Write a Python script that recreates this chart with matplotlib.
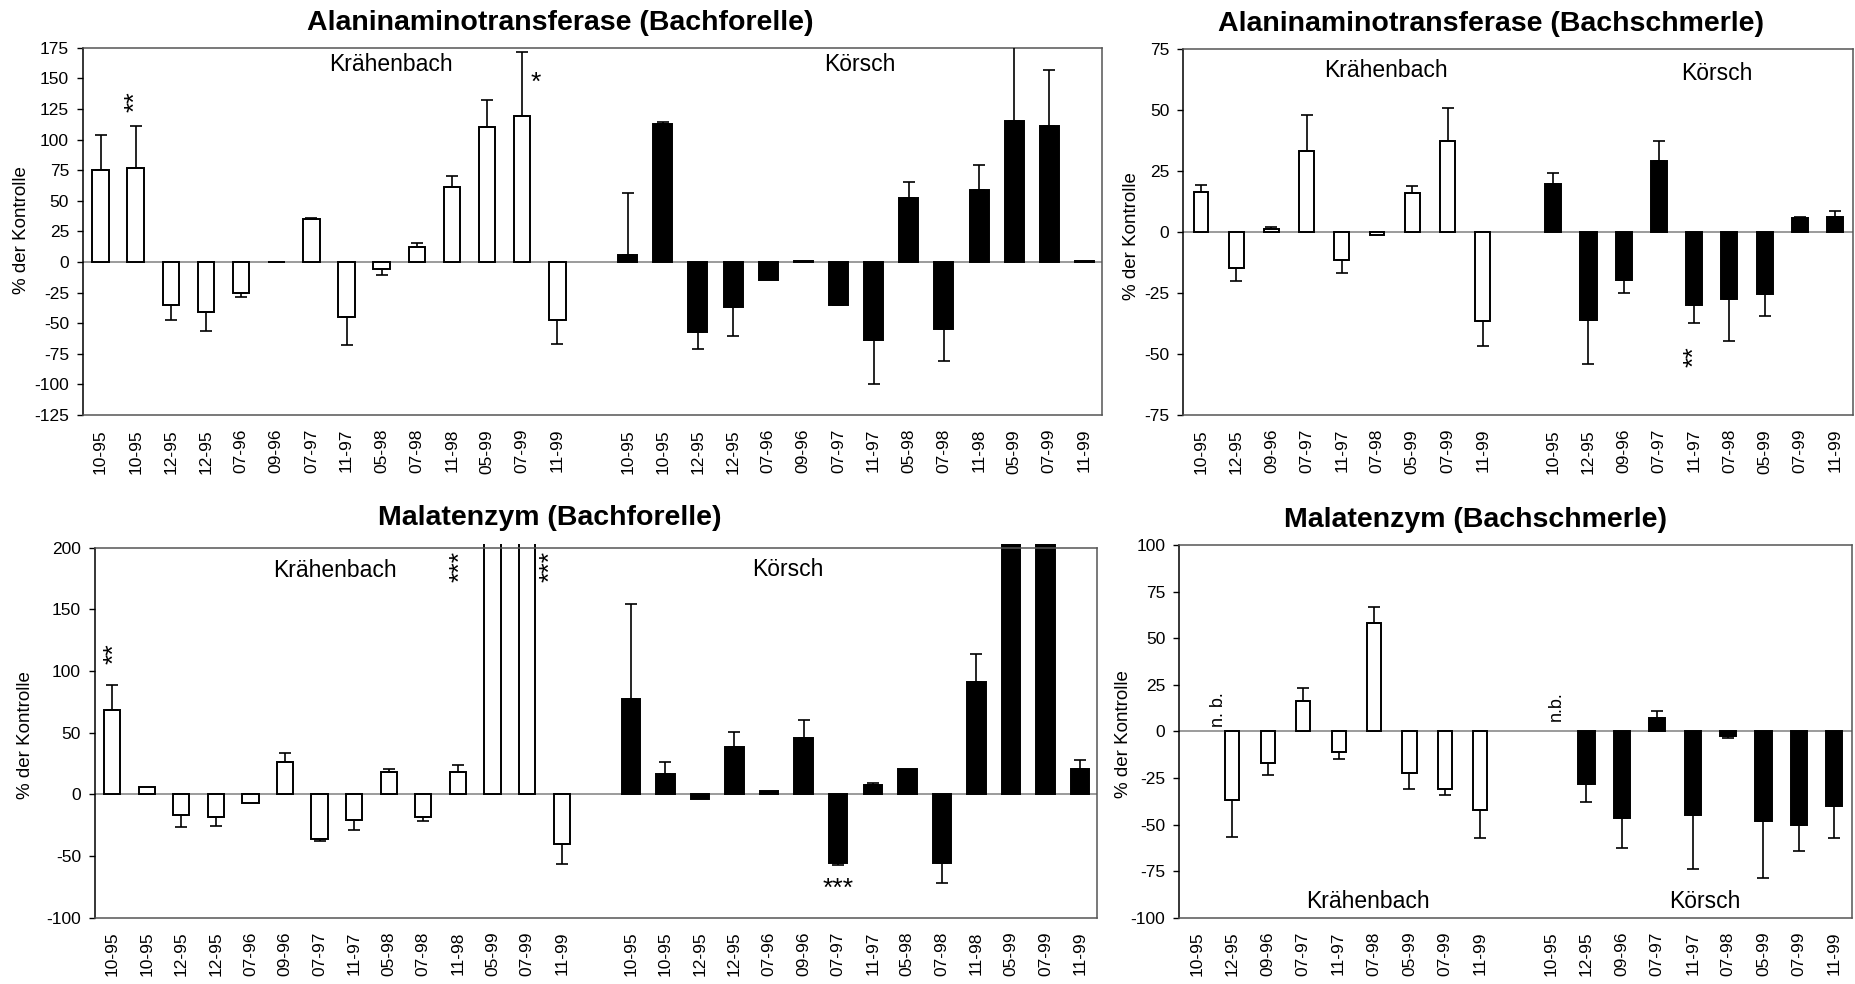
import matplotlib
matplotlib.use("Agg")
import matplotlib.pyplot as plt
from matplotlib.transforms import Bbox
import numpy as np

plt.rcParams['font.family'] = ['Liberation Sans', 'DejaVu Sans']
plt.rcParams['axes.unicode_minus'] = False

# sampling dates per fish species
dates_forelle = ["10-95", "10-95", "12-95", "12-95", "07-96", "09-96", "07-97",
                 "11-97", "05-98", "07-98", "11-98", "05-99", "07-99", "11-99"]
dates_schmerle = ["10-95", "12-95", "09-96", "07-97", "11-97", "07-98",
                  "05-99", "07-99", "11-99"]

# Alaninaminotransferase, Bachforelle (% der Kontrolle, SD)
alt_bf_kraehen = [75, 77, -35, -41, -25.5, 0.3, 35, -45, -6, 12, 61.5, 110, 119.5, -47.5]
alt_bf_kraehen_sd = [29, 34, 12.5, 15, 3.5, 0, 1, 23, 5, 3.5, 8.5, 22, 52, 19.5]
alt_bf_koersch = [6, 112.5, -57.5, -37, -15, 1, -35, -64, 52, -55, 59, 115, 111, 1]
alt_bf_koersch_sd = [50, 2, 14, 23.5, 0, 0, 0.5, 35.5, 13, 26, 20, 63, 46, 0]

# Alaninaminotransferase, Bachschmerle
alt_bs_kraehen = [16.3, -14.6, 1.4, 33.3, -11.6, -1.4, 15.8, 37.5, -36.4]
alt_bs_kraehen_sd = [3, 5.5, 0.5, 14.5, 5.3, 0, 3, 13.5, 10.3]
alt_bs_koersch = [19.5, -36, -19.6, 29.2, -29.8, -27.6, -25.6, 5.7, 6.3]
alt_bs_koersch_sd = [4.6, 18, 5.2, 7.9, 7.6, 17, 8.8, 0.4, 2.4]

# Malatenzym, Bachforelle (05-99 / 07-99 off scale)
me_bf_kraehen = [68.4, 6.2, -17, -18.4, -7.3, 26.2, -36.5, -20.8, 17.8, -18.4, 17.8, 260, 260, -40]
me_bf_kraehen_sd = [20, 0, 9.7, 7.3, 0, 7.3, 1.1, 8, 2.5, 3.5, 6, 0, 0, 16.8]
me_bf_koersch = [77, 16.8, -4, 38.6, 2.7, 45.7, -56, 7.3, 20.8, -56, 91.4, 260, 260, 20.3]
me_bf_koersch_sd = [77.5, 9.4, 0, 11.9, 0, 15, 1.6, 2.2, 0, 16.2, 22.6, 0, 0, 7.3]

# Malatenzym, Bachschmerle (10-95 nicht bestimmt)
me_bs_kraehen = [np.nan, -36.7, -16.8, 16.1, -11.1, 58.1, -22.4, -31, -42.2]
me_bs_kraehen_sd = [np.nan, 19.8, 6.5, 7, 3.9, 8.6, 8.5, 3.2, 15]
me_bs_koersch = [np.nan, -28.1, -46.3, 7.2, -44.7, -2.7, -47.9, -50.1, -39.9]
me_bs_koersch_sd = [np.nan, 10, 16.5, 3.5, 29, 0.7, 30.8, 14.1, 17.3]

W, H = 1856, 984
fig = plt.figure(figsize=(W / 100, H / 100), dpi=100)


def px_axes(left, top, right, bottom):
    return fig.add_axes([left / W, 1 - bottom / H, (right - left) / W, (bottom - top) / H])


def draw_bars(ax, x, vals, sd, face, width):
    vals = np.asarray(vals, float)
    sd = np.asarray(sd, float)
    ok = ~np.isnan(vals)
    x, vals, sd = x[ok], vals[ok], sd[ok]
    bars = ax.bar(x, vals, width=width, color=face, edgecolor='black', linewidth=1.4,
                  zorder=2)
    # let off-scale bars poke a few pixels past the frame, like the original
    bb = ax.get_window_extent()
    clip = Bbox.from_extents(bb.x0 - 10, bb.y0 - 10, bb.x1 + 10, bb.y1 + 3.5)
    for b in bars:
        b.set_clip_box(clip)
    up = np.where(vals >= 0, sd, 0)
    lo = np.where(vals < 0, sd, 0)
    has = sd > 0
    ax.errorbar(x[has], vals[has], yerr=[lo[has], up[has]], fmt='none', ecolor='black',
                elinewidth=1.2, capsize=4.5, capthick=1.2, zorder=3)


def panel(ax, dates, k_vals, k_sd, c_vals, c_sd, ylim, yticks, wk, wc):
    n = len(dates)
    xk = np.arange(n)
    xc = np.arange(n) + n + 1
    ax.axhline(0, color='#808080', lw=1.1, zorder=1)
    ax.set_xlim(-0.5, 2 * n + 0.5)
    ax.set_ylim(*ylim)
    draw_bars(ax, xk, k_vals, k_sd, 'white', wk)
    draw_bars(ax, xc, c_vals, c_sd, 'black', wc)
    ax.set_yticks(yticks)
    ax.tick_params(axis='y', labelsize=12.5, length=4, width=1, pad=6, direction='out')
    ax.set_xticks(np.concatenate([xk, xc]))
    ax.set_xticklabels(dates + dates, rotation=90, fontsize=12.5)
    ax.tick_params(axis='x', length=0, pad=10)
    ax.spines['left'].set_color('black')
    for s in ['top', 'right', 'bottom']:
        ax.spines[s].set_color('#555555')
    for s in ax.spines.values():
        s.set_linewidth(1.1)


def ylabel(x, y):
    fig.text(x / W, 1 - y / H, "% der Kontrolle", rotation=90, ha='center', va='center',
             fontsize=13.5)


def title(x, y, s):
    fig.text(x / W, 1 - y / H, s, ha='center', va='center', fontsize=20.5, fontweight='bold')


def stars(ax, x, y, s, rot=90):
    ax.text(x, y, s, rotation=rot, ha='center', va='center', fontsize=19)


# Alaninaminotransferase (Bachforelle)
ax1 = px_axes(83, 47.7, 1102, 415)
panel(ax1, dates_forelle, alt_bf_kraehen, alt_bf_kraehen_sd, alt_bf_koersch,
      alt_bf_koersch_sd, (-125, 175), np.arange(-125, 176, 25), 0.47, 0.54)
ax1.text(8.27, 161, "Krähenbach", ha='center', va='center', fontsize=16.5)
ax1.text(21.62, 161, "Körsch", ha='center', va='center', fontsize=16.5)
stars(ax1, 1.0, 131, "**")
stars(ax1, 12.39, 146, "*", rot=0)
title(560, 23, "Alaninaminotransferase (Bachforelle)")
ylabel(22, 230)

# Alaninaminotransferase (Bachschmerle)
ax2 = px_axes(1183.3, 49, 1852.7, 415)
panel(ax2, dates_schmerle, alt_bs_kraehen, alt_bs_kraehen_sd, alt_bs_koersch,
      alt_bs_koersch_sd, (-75, 75), np.arange(-75, 76, 25), 0.42, 0.46)
ax2.text(5.25, 66, "Krähenbach", ha='center', va='center', fontsize=16.5)
ax2.text(14.65, 65, "Körsch", ha='center', va='center', fontsize=16.5)
stars(ax2, 14.0, -51, "**")
title(1491, 24, "Alaninaminotransferase (Bachschmerle)")
ylabel(1132, 236)

# Malatenzym (Bachforelle)
ax3 = px_axes(94.9, 547.7, 1097.5, 917.7)
panel(ax3, dates_forelle, me_bf_kraehen, me_bf_kraehen_sd, me_bf_koersch,
      me_bf_koersch_sd, (-100, 200), np.arange(-100, 201, 50), 0.47, 0.53)
ax3.text(6.45, 181.5, "Krähenbach", ha='center', va='center', fontsize=16.5)
ax3.text(19.55, 182.5, "Körsch", ha='center', va='center', fontsize=16.5)
stars(ax3, 0.07, 114, "**")
stars(ax3, 10.06, 185, "***")
stars(ax3, 12.69, 185, "***")
stars(ax3, 21.0, -77, "***", rot=0)
title(550, 518, "Malatenzym (Bachforelle)")
ylabel(26, 735)

# Malatenzym (Bachschmerle)
ax4 = px_axes(1179.3, 545, 1852, 917.7)
panel(ax4, dates_schmerle, me_bs_kraehen, me_bs_kraehen_sd, me_bs_koersch,
      me_bs_koersch_sd, (-100, 100), np.arange(-100, 101, 25), 0.40, 0.46)
ax4.text(4.82, -91.5, "Krähenbach", ha='center', va='center', fontsize=16.5)
ax4.text(14.33, -91.5, "Körsch", ha='center', va='center', fontsize=16.5)
ax4.text(0.62, 2.5, "n. b.", rotation=90, ha='center', va='bottom', fontsize=13)
ax4.text(10.16, 5.5, "n.b.", rotation=90, ha='center', va='bottom', fontsize=13)
title(1475.5, 520, "Malatenzym (Bachschmerle)")
ylabel(1124, 734)

fig.savefig("out.png", dpi=100, facecolor='white')
